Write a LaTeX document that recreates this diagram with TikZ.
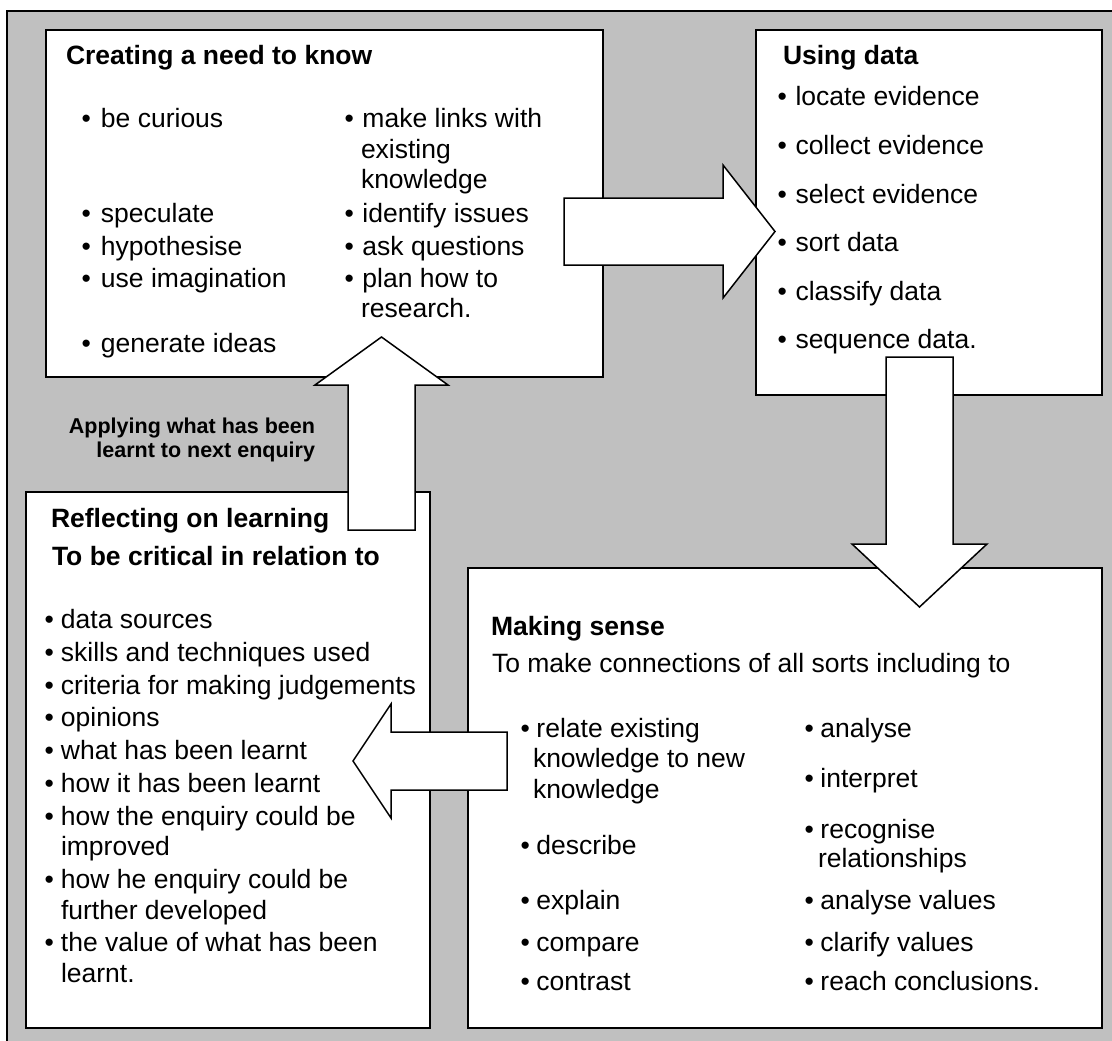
\documentclass[tikz,border=0pt]{standalone}
\usepackage{fontspec}
\setmainfont{Liberation Sans}
\definecolor{bggray}{RGB}{192,192,192}
\newlength\bulw
\newcommand\bul[4]{\node[txt] (#1) at (#2,#3) {\makebox[\bulw][l]{•}#4};}
\newcommand\cont[4]{\node[txt] (#1) at (#2,#3) {#4};}
\tikzset{
  txt/.style={font=\fontsize{26.5}{30}\selectfont, anchor=base west, inner sep=0pt, outer sep=0pt, text=black},
  ttl/.style={txt, font=\fontsize{26.5}{30}\selectfont\bfseries},
  smallbold/.style={font=\fontsize{21.5}{24}\selectfont\bfseries, anchor=base east, inner sep=0pt, outer sep=0pt},
  panel/.style={draw=black, line width=2pt, fill=white, anchor=north west, inner sep=0pt, outer sep=0pt},
  blockarrow/.style={draw=black, line width=1.5pt, fill=white, line join=miter},
}
\begin{document}
\begin{tikzpicture}[x=1pt,y=-1pt]
\useasboundingbox (0,0) rectangle (1112,1041);
\clip (0,0) rectangle (1112,1041);
\fill[white] (0,0) rectangle (1112,1041);
% grey background with frame (right and bottom sides lie outside the picture)
\draw[fill=bggray, line width=1.5pt] (7,11) rectangle (1130,1060);

% panels
\node[panel, minimum width=557pt, minimum height=347pt] (create) at (46,30) {};
\node[panel, minimum width=346pt, minimum height=365pt] (usedata) at (756,30) {};
\node[panel, minimum width=404pt, minimum height=536pt] (reflect) at (26,492) {};
\node[panel, minimum width=634pt, minimum height=460pt] (sense) at (468,568) {};

% block arrows
\coordinate (ra) at (564,231.5);
\draw[blockarrow] (564,198) -- (723,198) -- (723,165) -- (775,231.5) -- (723,298) -- (723,265) -- (564,265) -- cycle;
\draw[blockarrow] (886,357) -- (953,357) -- (953,544) -- (987,544) -- (919.5,607) -- (852,544) -- (886,544) -- cycle;
\draw[blockarrow] (507,732) -- (391,732) -- (391,704) -- (353,761) -- (391,818) -- (391,790) -- (507,790) -- cycle;
\draw[blockarrow] (348,530) -- (348,385) -- (315,385) -- (381.5,337) -- (448,385) -- (415,385) -- (415,530) -- cycle;

% label of the upward arrow
\node[smallbold] (ap1) at (315,433) {Applying what has been};
\node[smallbold] (ap2) at (315,457) {learnt to next enquiry};

% Creating a need to know
\node[ttl] (t1) at (66,65) {Creating a need to know};
\setlength\bulw{19.5pt}
\bul{c1}{81.5}{128}{be curious}
\bul{c2}{81.5}{222}{speculate}
\bul{c3}{81.5}{255}{hypothesise}
\bul{c4}{81.5}{287}{use imagination}
\bul{c5}{81.5}{352}{generate ideas}
\setlength\bulw{18pt}
\bul{c6}{344.5}{128}{make links with}
\cont{c6b}{361}{158}{existing}
\cont{c6c}{361}{188}{knowledge}
\bul{c7}{344.5}{222}{identify issues}
\bul{c8}{344.5}{255}{ask questions}
\bul{c9}{344.5}{287}{plan how to}
\cont{c9b}{361}{317}{research.}

% Using data
\node[ttl] (t2) at (783,65) {Using data};
\setlength\bulw{18pt}
\bul{u1}{777.5}{106}{locate evidence}
\bul{u2}{777.5}{154}{collect evidence}
\bul{u3}{777.5}{203}{select evidence}
\bul{u4}{777.5}{251}{sort data}
\bul{u5}{777.5}{300}{classify data}
\bul{u6}{777.5}{348}{sequence data.}

% Reflecting on learning
\node[ttl] (t3) at (51,527) {Reflecting on learning};
\node[ttl] (t3b) at (52,565) {To be critical in relation to};
\setlength\bulw{16.5pt}
\bul{r1}{44.5}{628}{data sources}
\bul{r2}{44.5}{661}{skills and techniques used}
\bul{r3}{44.5}{694}{criteria for making judgements}
\bul{r4}{44.5}{726.5}{opinions}
\bul{r5}{44.5}{759}{what has been learnt}
\bul{r6}{44.5}{792}{how it has been learnt}
\bul{r7}{44.5}{825}{how the enquiry could be}
\cont{r7b}{61}{855}{improved}
\bul{r8}{44.5}{888}{how he enquiry could be}
\cont{r8b}{61}{919}{further developed}
\bul{r9}{44.5}{951.5}{the value of what has been}
\cont{r9b}{61}{982}{learnt.}

% Making sense
\node[ttl] (t4) at (491,635) {Making sense};
\node[txt] (t4b) at (492,672) {To make connections of all sorts including to};
\setlength\bulw{16pt}
\bul{m1}{520.5}{737}{relate existing}
\cont{m1b}{533}{767.6}{knowledge to new}
\cont{m1c}{533}{798}{knowledge}
\bul{m2}{520.5}{854}{describe}
\bul{m3}{520.5}{909}{explain}
\bul{m4}{520.5}{951.5}{compare}
\bul{m5}{520.5}{990}{contrast}
\bul{m6}{804.5}{737}{analyse}
\bul{m7}{804.5}{787}{interpret}
\bul{m8}{804.5}{838}{recognise}
\cont{m8b}{818}{867}{relationships}
\bul{m9}{804.5}{909}{analyse values}
\bul{m10}{804.5}{951.5}{clarify values}
\bul{m11}{804.5}{990}{reach conclusions.}
\end{tikzpicture}
\end{document}
